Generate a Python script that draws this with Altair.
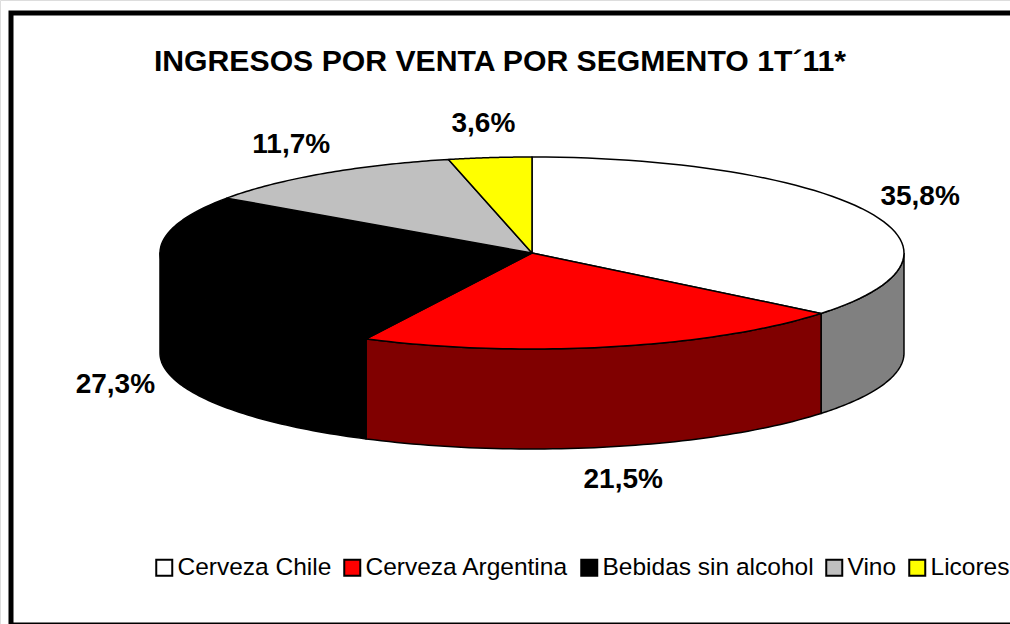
import altair as alt
import pandas as pd

# ---- data ----
categories = ["Cerveza Chile", "Cerveza Argentina", "Bebidas sin alcohol", "Vino", "Licores"]
values = [35.8, 21.5, 27.3, 11.7, 3.6]
top_colors = ["#FFFFFF", "#FF0000", "#000000", "#C0C0C0", "#FFFF00"]
side_colors = ["#808080", "#800000", "#000000", "#808080", "#808080"]
title_text = "INGRESOS POR VENTA POR SEGMENTO 1T´11*"

df = pd.DataFrame({
    "order": list(range(len(categories))),
    "category": categories,
    "value": values,
    "side": side_colors,
})

# ---- geometry of the projected (3D-looking) pie ----
CX, CY, RX, RY, D = 532, 253, 372, 96, 100
N = 60
W, H = 1010, 624
FONT = "Liberation Sans"

xs = alt.Scale(domain=[0, W], range=[0, W])
ys = alt.Scale(domain=[0, H], range=[0, H])

base = (
    alt.Chart(df)
    .transform_window(cum="sum(value)", sort=[alt.SortField("order")], frame=[None, 0])
    .transform_joinaggregate(total="sum(value)")
    .transform_calculate(
        a0="2*PI*(datum.cum-datum.value)/datum.total",
        a1="2*PI*datum.cum/datum.total",
    )
)

# side walls (front half only)
walls = (
    base.transform_calculate(
        b0="max(datum.a0, PI/2)",
        b1="min(datum.a1, 3*PI/2)",
    )
    .transform_filter("datum.b1 > datum.b0")
    .transform_calculate(i=f"sequence(0, {2 * N + 3})")
    .transform_flatten(["i"])
    .transform_calculate(
        j=f"datum.i <= {N} ? datum.i : (datum.i <= {2 * N + 1} ? {2 * N + 1} - datum.i : 0)",
        bot=f"(datum.i > {N} && datum.i <= {2 * N + 1}) ? 1 : 0",
    )
    .transform_calculate(theta=f"datum.b0 + (datum.b1 - datum.b0) * datum.j / {N}")
    .transform_calculate(
        px=f"{CX} + {RX} * sin(datum.theta)",
        py=f"{CY} - {RY} * cos(datum.theta) + datum.bot * {D}",
    )
    .mark_line(stroke="black", strokeWidth=1.5, strokeJoin="round")
    .encode(
        x=alt.X("px:Q", scale=xs, axis=None),
        y=alt.Y("py:Q", scale=ys, axis=None),
        order=alt.Order("i:Q"),
        detail="category:N",
        fill=alt.Fill("side:N", scale=None, legend=None),
    )
)

# top faces
tops = (
    base.transform_calculate(i=f"sequence(0, {N + 3})")
    .transform_flatten(["i"])
    .transform_calculate(theta=f"datum.a0 + (datum.a1 - datum.a0) * clamp(datum.i - 1, 0, {N}) / {N}")
    .transform_calculate(
        edge=f"(datum.i == 0 || datum.i == {N + 2}) ? 0 : 1",
    )
    .transform_calculate(
        px=f"{CX} + datum.edge * {RX} * sin(datum.theta)",
        py=f"{CY} - datum.edge * {RY} * cos(datum.theta)",
    )
    .mark_line(stroke="black", strokeWidth=1.5, strokeJoin="round")
    .encode(
        x=alt.X("px:Q", scale=xs, axis=None),
        y=alt.Y("py:Q", scale=ys, axis=None),
        order=alt.Order("i:Q"),
        detail="category:N",
        fill=alt.Fill(
            "category:N",
            scale=alt.Scale(domain=categories, range=top_colors),
            legend=alt.Legend(
                title=None,
                orient="none",
                legendX=152,
                legendY=555,
                padding=0,
                direction="horizontal",
                symbolType="square",
                symbolSize=256,
                symbolStrokeColor="black",
                symbolStrokeWidth=2,
                symbolOpacity=1,
                labelFont=FONT,
                labelFontSize=24.5,
                labelColor="black",
                labelLimit=500,
                labelOffset=1,
                columnPadding=8,
            ),
        ),
    )
)

# percentage labels
labels = (
    base.transform_calculate(mid="(datum.a0 + datum.a1) / 2")
    .transform_calculate(
        lx=f"{CX} + 430 * sin(datum.mid)",
        ly=f"{CY} - 130 * cos(datum.mid) + (cos(datum.mid) < 0 ? {D} : 0)",
        txt="replace(format(datum.value, '.1f'), '.', ',') + '%'",
    )
    .mark_text(font=FONT, fontSize=28, fontWeight="bold", color="black", align="center", baseline="middle")
    .encode(
        x=alt.X("lx:Q", scale=xs, axis=None),
        y=alt.Y("ly:Q", scale=ys, axis=None),
        text="txt:N",
    )
)

title = (
    alt.Chart(alt.Data(values=[{"t": title_text}]))
    .mark_text(font=FONT, fontSize=30.2, fontWeight="bold", color="black", align="center", baseline="alphabetic")
    .encode(x=alt.value(500), y=alt.value(71), text="t:N")
)

frame = (
    alt.Chart(alt.Data(values=[{}]))
    .mark_rect(fill=None, stroke="black", strokeWidth=5)
    .encode(x=alt.value(11), x2=alt.value(1030), y=alt.value(13), y2=alt.value(625))
)

chart = (
    alt.layer(walls, tops, labels, title, frame)
    .resolve_scale(fill="independent")
    .properties(width=W, height=H, autosize=alt.AutoSizeParams(type="none"), padding=0)
    .configure_view(stroke=None)
    .configure(background="white")
)

chart.save("out.html", embed_options={"renderer": "svg", "actions": False})
